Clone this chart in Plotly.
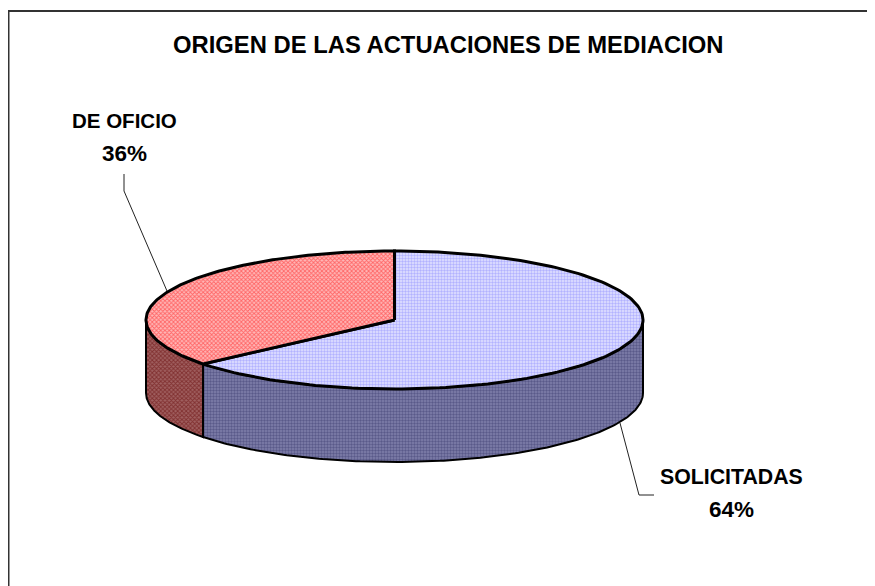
import numpy as np
import plotly.graph_objects as go

categories = ["SOLICITADAS", "DE OFICIO"]
shares = [64, 36]
chart_title = "ORIGEN DE LAS ACTUACIONES DE MEDIACION"

W, H = 875, 586
PAGE = 8  # the page body margin
CX, CY, RX, RY, DEPTH = 394.5, 320, 248.5, 69, 73
FONT = "Liberation Sans, Arial, sans-serif"

def ell(a0, a1, n=160):
    """Points on the top ellipse; angles clockwise from 12 o'clock, in degrees."""
    t = np.radians(np.linspace(a0, a1, n))
    return CX + RX * np.sin(t), CY - RY * np.cos(t)

def area(xs, ys, pat, fg, bg, size, sol, width=3):
    return go.Scatter(x=xs, y=ys, mode="lines", fill="toself", hoverinfo="skip",
                      line=dict(color="#000000", width=width), fillcolor=bg,
                      fillpattern=dict(shape=pat, fgcolor=fg, bgcolor=bg, size=size, solidity=sol),
                      showlegend=False)

a_sol = shares[0] / sum(shares) * 360
fig = go.Figure()

xs, ys = ell(90, a_sol)
fig.add_trace(area(np.r_[xs, xs[::-1], xs[0]], np.r_[ys, ys[::-1] + DEPTH, ys[0]],
                   ".", "#333366", "#8080AC", 3, 0.5, 2))
xs, ys = ell(a_sol, 270)
fig.add_trace(area(np.r_[xs, xs[::-1], xs[0]], np.r_[ys, ys[::-1] + DEPTH, ys[0]],
                   "x", "#600000", "#A06060", 3, 0.5, 2))
xs, ys = ell(0, a_sol)
fig.add_trace(area(np.r_[CX, xs, CX], np.r_[CY, ys, CY], ".", "#8080FF", "#E4E4FF", 3, 0.5))
xs, ys = ell(a_sol, 360)
fig.add_trace(area(np.r_[CX, xs, CX], np.r_[CY, ys, CY], "x", "#FF1010", "#FFB8B8", 3, 0.5))

for lx, ly in [([124, 124, 167], [174, 191, 291]), ([620, 639, 654], [423, 495, 495])]:
    fig.add_trace(go.Scatter(x=lx, y=ly, mode="lines", hoverinfo="skip", showlegend=False,
                             line=dict(color="#222222", width=1)))

def label(x, y1, y2, name, share, size):
    fig.add_annotation(x=x, y=y1, xref="x", yref="y", showarrow=False,
                       text=f"<b>{name}</b>", font=dict(family=FONT, size=size, color="#000"))
    fig.add_annotation(x=x, y=y2, xref="x", yref="y", showarrow=False,
                       text=f"<b>{share}%</b>", font=dict(family=FONT, size=22.5, color="#000"))

label(124, 120, 153, categories[1], shares[1], 20.5)
label(731, 477, 509, categories[0], shares[0], 21.3)

fig.add_annotation(x=448, y=44, xref="x", yref="y", showarrow=False, text=f"<b>{chart_title}</b>",
                   font=dict(family=FONT, size=23.8, color="#000"))

fig.update_layout(
    width=W, height=H, margin=dict(l=0, r=0, t=0, b=0),
    paper_bgcolor="#FFFFFF", plot_bgcolor="#FFFFFF",
    xaxis=dict(range=[PAGE, W + PAGE], visible=False, fixedrange=True),
    yaxis=dict(range=[H + PAGE, PAGE], visible=False, fixedrange=True),
    shapes=[dict(type="line", xref="x", yref="y", x0=8.5, y0=11, x1=W + PAGE, y1=11,
                 line=dict(color="#333333", width=2)),
            dict(type="line", xref="x", yref="y", x0=8.5, y0=10, x1=8.5, y1=H + PAGE,
                 line=dict(color="#333333", width=2))],
)
fig.write_html("out.html")
